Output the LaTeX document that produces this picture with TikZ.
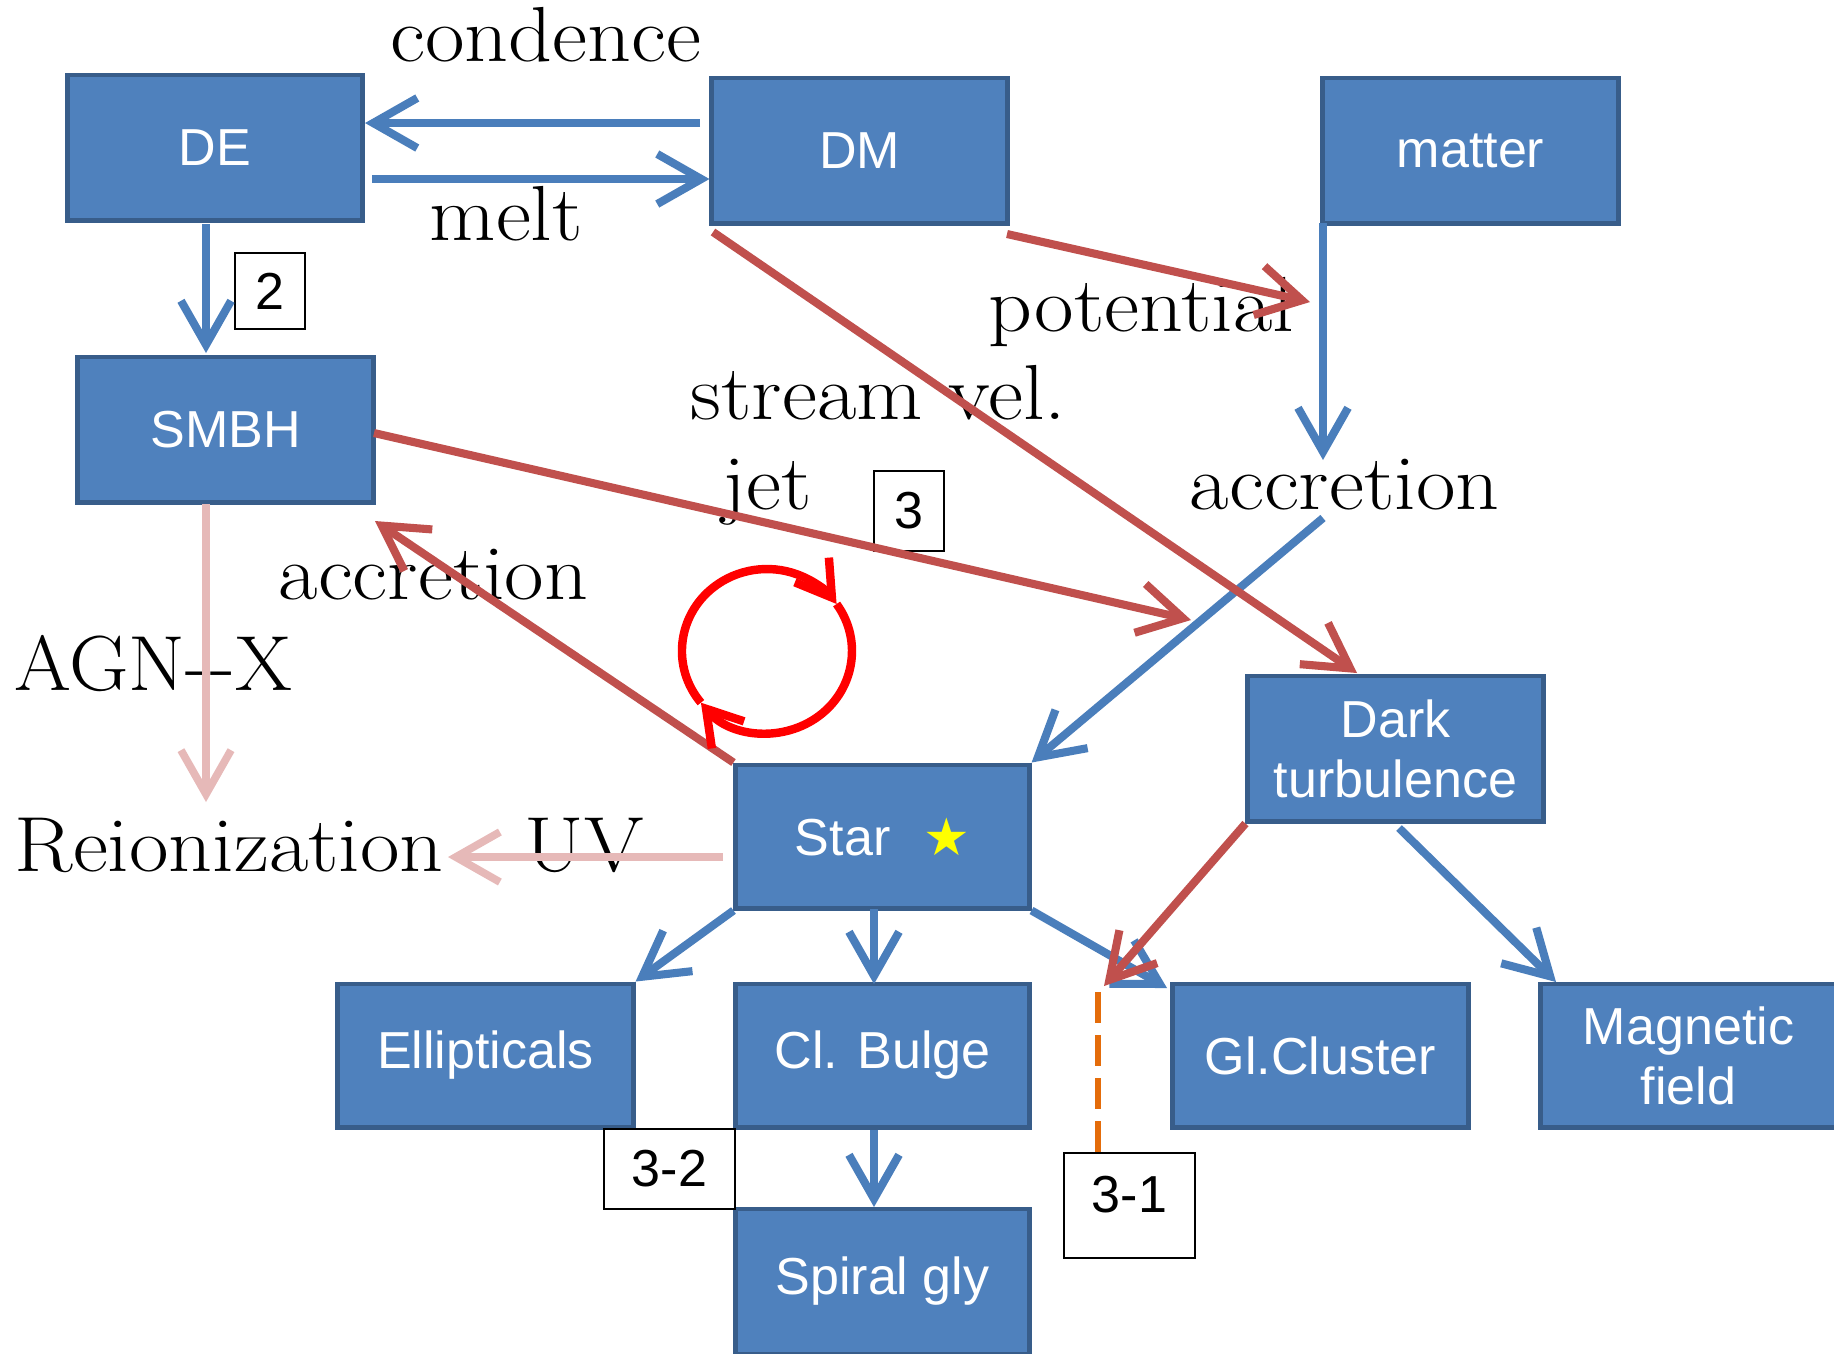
\documentclass[tikz,border=0pt]{standalone}
\usepackage{graphicx}
\usepackage{fontspec}
\setsansfont{Liberation Sans}
\newfontfamily\symfont{DejaVu Sans}
\usetikzlibrary{arrows.meta,shapes.geometric}
\definecolor{boxfill}{HTML}{4F81BD}
\definecolor{boxline}{HTML}{385D8A}
\definecolor{arrblue}{HTML}{4A7EBB}
\definecolor{arrred}{HTML}{C0504D}
\definecolor{arrpink}{HTML}{E6B9B8}
\definecolor{loopred}{HTML}{FF0000}
\definecolor{dashorange}{HTML}{E46C0A}
\definecolor{staryellow}{HTML}{FFFF00}
\newcommand{\wide}[1]{\scalebox{1.1}[1.0]{#1}}
\begin{document}
\begin{tikzpicture}[x=0.01cm,y=-0.01cm,
  box/.style={draw=boxline, fill=boxfill, line width=1.4pt, minimum width=2.95cm, minimum height=1.45cm, inner sep=0pt, text=white, font=\sffamily\fontsize{14.8}{17}\selectfont, align=center},
  lab/.style={draw=black, fill=white, line width=0.8pt, inner sep=0pt, font=\sffamily\fontsize{14.8}{17}\selectfont},
  txt/.style={inner sep=0pt, anchor=base west, font=\rmfamily\fontsize{22.2}{26}\selectfont},
  tip/.style={-{Straight Barb[length=0.44cm,width=0.5cm]}},
  barr/.style={draw=arrblue, line width=2.3pt, tip},
  rarr/.style={draw=arrred, line width=2.3pt, tip},
  parr/.style={draw=arrpink, line width=2.2pt, tip},
  looparr/.style={draw=loopred, line width=2.4pt, -{Straight Barb[length=0.34cm,width=0.42cm]}},
  odash/.style={draw=dashorange, line width=1.8pt, dash pattern=on 0.31cm off 0.12cm},
]
\useasboundingbox (0,0) rectangle (1834,1353);

% texts (drawn first; connectors pass over them)
\node[txt] (tCond) at (390,61) {\wide{condence}};
\node[txt] (tMelt) at (429,240) {\wide{melt}};
\node[txt] (tPot) at (988,331) {\wide{potential}};
\node[txt] (tStream) at (690,419) {\wide{stream vel.}};
\node[txt] (tJet) at (722,509) {\wide{jet}};
\node[txt] (tAccR) at (1189,509) {\wide{accretion}};
\node[txt] (tAccL) at (278,599) {\wide{accretion}};
\node[txt] (tAGN) at (14,690) {\scalebox{1.05}[1.0]{AGN-{}-X}};
\node[txt] (tReion) at (14,871) {\wide{Reionization}};
\node[txt] (tUV) at (524,871) {\wide{UV}};

% boxes
\node[box] (DE) at (215,147.5) {DE};
\node[box] (DM) at (859.5,150.5) {DM};
\node[box] (matter) at (1470.5,150.5) {matter};
\node[box] (SMBH) at (225.5,429.5) {SMBH};
\node[box, minimum width=2.93cm, minimum height=1.43cm] (Star) at (882.5,836.5) {Star\hspace{0.33cm}{\symfont\color{staryellow}★}};
\node[box] (DT) at (1395.5,748.5) {Dark\\turbulence};
\node[box, minimum height=1.43cm] (Ell) at (485.5,1055.5) {Ellipticals};
\node[box, minimum width=2.93cm, minimum height=1.43cm] (Bulge) at (882.5,1055.5) {Cl. Bulge};
\node[box, minimum height=1.43cm] (GlC) at (1320.5,1055.5) {Gl.Cluster};
\node[box, minimum height=1.43cm] (Mag) at (1688.5,1055.5) {Magnetic\\field};
\node[box, minimum width=2.93cm] (Spiral) at (882.5,1281.5) {Spiral gly};

% label boxes
\node[lab, minimum width=0.70cm, minimum height=0.76cm] (L2) at (270,291) {2};
\node[lab, minimum width=0.70cm, minimum height=0.80cm] (L3) at (909,511) {3};
\node[lab, minimum width=1.31cm, minimum height=0.80cm] (L32) at (669.5,1169) {3-2};
\node[lab, minimum width=1.31cm, minimum height=1.05cm, text depth=0.22cm] (L31) at (1129.5,1205.5) {3-1};

% coordinates for free ends
\coordinate (cond0) at (700,123);
\coordinate (melt0) at (372,179);
\coordinate (de0) at (206,224);
\coordinate (de1) at (206,353);
\coordinate (acc0) at (1323,223);
\coordinate (acc1) at (1323,460);
\coordinate (acc2) at (1323,518);
\coordinate (st0) at (874,909);
\coordinate (bu1) at (874,984);
\coordinate (bu2) at (874,1130);
\coordinate (sp1) at (874,1207);
\coordinate (gc1) at (1167,988);
\coordinate (dt1) at (1399,828);
\coordinate (mg1) at (1556,982);
\coordinate (pot0) at (1007,234);
\coordinate (pot1) at (1310,302);
\coordinate (dm0) at (713,232);
\coordinate (dt0) at (1357,673);
\coordinate (jet0) at (374,433);
\coordinate (jet1) at (1191,620);
\coordinate (sm1) at (375,521);
\coordinate (o31) at (1104,986);
\coordinate (od0) at (1098,992);
\coordinate (pk0) at (206,504);
\coordinate (pk1) at (206,802);
\coordinate (uv0) at (723,857);
\coordinate (uv1) at (448,857);

% blue connectors
\draw[barr] (cond0) -- (DE.east |- cond0);
\draw[barr] (melt0) -- (DM.west |- melt0);
\draw[barr] (de0) -- (de1);
\draw[barr] (acc0) -- (acc1);
\draw[barr] (acc2) -- (Star.north east);
\draw[barr] (Star.south west) -- (Ell.north east);
\draw[barr] (st0) -- (bu1);
\draw[barr] (Star.south east) -- (gc1);
\draw[barr] (dt1) -- (mg1);
\draw[barr] (bu2) -- (sp1);

% red connectors
\draw[rarr] (pot0) -- (pot1);
\draw[rarr] (dm0) -- (dt0);
\draw[rarr] (jet0) -- (jet1);
\draw[rarr] (Star.north west) -- (sm1);
\draw[rarr] (DT.south west) -- (o31);

% pink connectors
\draw[parr] (pk0) -- (pk1);
\draw[parr] (uv0) -- (uv1);

% orange dashed
\draw[odash] (od0) -- (od0 |- L31.north);

% red loop
\draw[looparr] (700.9,702.6) arc[start angle=141, end angle=325, x radius=85, y radius=82];
\draw[looparr] (836.6,604.0) arc[start angle=325, end angle=501, x radius=85, y radius=82];
\end{tikzpicture}
\end{document}
